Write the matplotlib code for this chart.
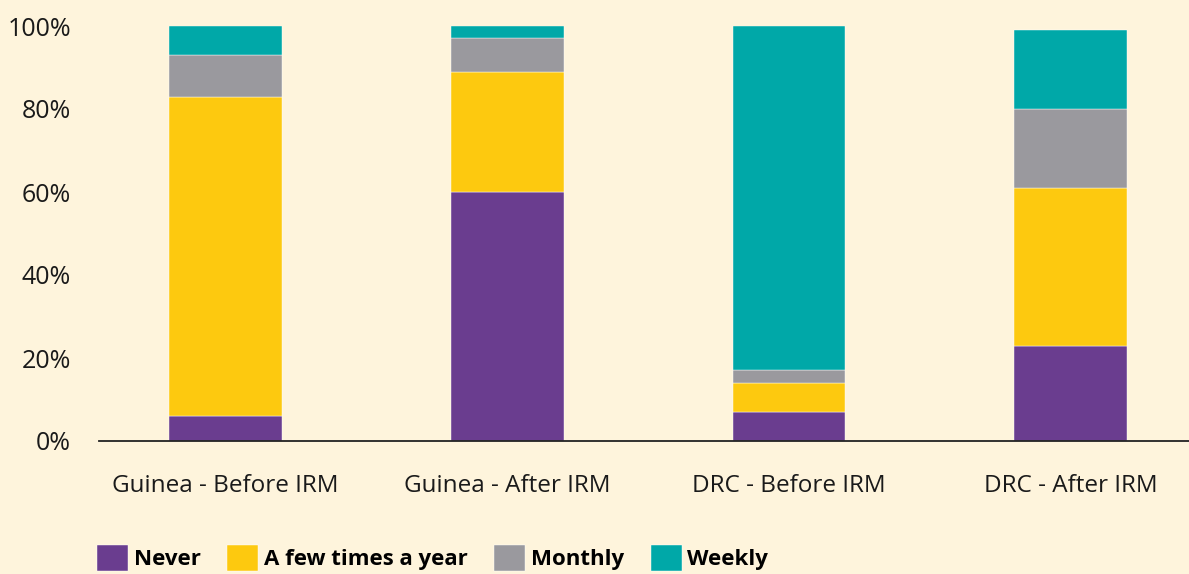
import matplotlib
matplotlib.use("Agg")
import matplotlib.pyplot as plt
import numpy as np

groups = ["Guinea - Before IRM", "Guinea - After IRM", "DRC - Before IRM", "DRC - After IRM"]
series = ["Never", "A few times a year", "Monthly", "Weekly"]
never = [6, 60, 7, 23]
few_times = [77, 29, 7, 38]
monthly = [10, 8, 3, 19]
weekly = [7, 3, 83, 19]
colors = ["#6A3D8F", "#FDC90F", "#9A999E", "#00A8A8"]
bg = "#FEF4DC"

plt.rcParams["font.family"] = ["Open Sans", "DejaVu Sans"]

fig = plt.figure(figsize=(11.89, 5.74), dpi=100, facecolor=bg)
ax = fig.add_axes([99 / 1189, 1 - 441 / 574, 1 - 99 / 1189, (441 - 26) / 574])
ax.set_facecolor(bg)

x = np.arange(len(groups))
bottom = np.zeros(len(groups))
for name, vals, col in zip(series, [never, few_times, monthly, weekly], colors):
    ax.bar(x, vals, width=0.4, bottom=bottom, color=col, label=name,
           edgecolor="white", linewidth=0.3)
    bottom += np.array(vals)

ax.set_xlim(-0.45, 3.42)
ax.set_ylim(0, 100)
ax.set_yticks(range(0, 101, 20))
ax.set_yticklabels([f"{v}%" for v in range(0, 101, 20)])
ax.set_xticks(x)
ax.set_xticklabels(groups)
ax.tick_params(axis="y", length=0, labelsize=18, colors="#1a1a1a", pad=20)
ax.tick_params(axis="x", length=0, labelsize=17.5, colors="#1a1a1a", pad=24)
for s in ["top", "right", "left"]:
    ax.spines[s].set_visible(False)
ax.spines["bottom"].set_color("#222222")
ax.spines["bottom"].set_linewidth(1.3)

fig.legend(loc="upper left", bbox_to_anchor=(97 / 1189, 1 - 545 / 574), ncol=4,
           frameon=False, prop={"weight": "bold", "size": 16},
           handlelength=1.4, handleheight=1.4, handletextpad=0.25,
           columnspacing=1.2, borderpad=0, borderaxespad=0)

fig.savefig("out.png", dpi=100, facecolor=bg)
